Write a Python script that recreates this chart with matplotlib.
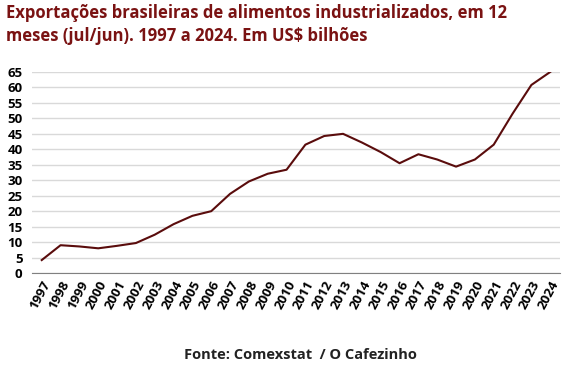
import numpy as np
import matplotlib.pyplot as plt

anos = [str(a) for a in range(1997, 2025)]
valores = [4.2, 9.0, 8.6, 8.0, 8.8, 9.7, 12.4, 15.8, 18.5, 20.0,
           25.6, 29.6, 32.1, 33.4, 41.5, 44.3, 45.0, 42.2, 39.1, 35.5,
           38.4, 36.7, 34.4, 36.7, 41.5, 51.5, 60.8, 65.0]

titulo = 'Exportações brasileiras de alimentos industrializados, em 12\nmeses (jul/jun). 1997 a 2024. Em US$ bilhões'
fonte = 'Fonte: Comexstat  / O Cafezinho'

plt.rcParams['font.family'] = ['Open Sans', 'DejaVu Sans']

fig = plt.figure(figsize=(5.67, 3.69), dpi=100)
ax = fig.add_axes([0.057, 0.26, 0.93, 0.545])

x = np.arange(len(anos))
ax.plot(x, valores, color='#5a0c0c', lw=1.5)

ax.set_xlim(-0.5, len(anos) - 0.5)
ax.set_ylim(0, 65)
ax.set_yticks(range(0, 70, 5))
ax.set_xticks(x)
ax.set_xticklabels(anos, rotation=62, ha='right', rotation_mode='anchor',
                   fontsize=9.5, fontweight='bold')
for t in ax.get_yticklabels():
    t.set_fontsize(9.5)
    t.set_fontweight('bold')
ax.grid(axis='y', color='#d9d9d9', lw=1)
ax.set_axisbelow(True)
for s in ['top', 'right', 'left']:
    ax.spines[s].set_visible(False)
ax.spines['bottom'].set_color('#808080')
ax.tick_params(axis='y', length=0, pad=7)
ax.tick_params(axis='x', length=0, pad=4)

fig.text(0.01, 0.99, titulo, ha='left', va='top', fontsize=12,
         fontweight='bold', color='#7a1212', linespacing=1.4)
fig.text(0.53, 0.02, fonte, ha='center', va='bottom', fontsize=10.5,
         fontweight='bold', color='#222222')

fig.savefig('out.png', dpi=100)
